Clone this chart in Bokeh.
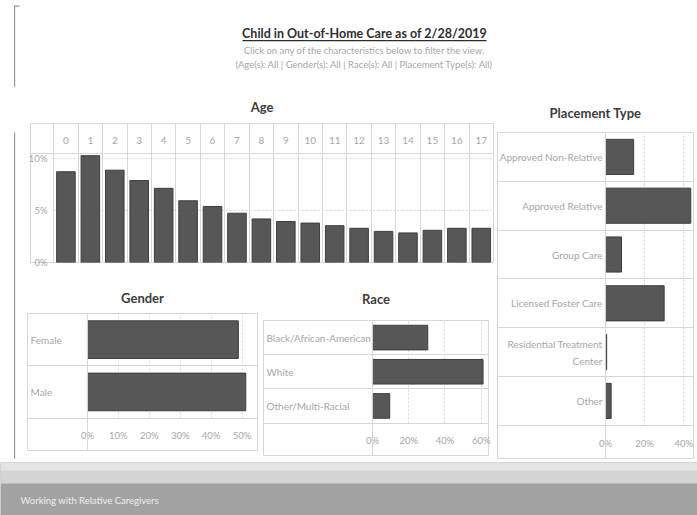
from bokeh.plotting import figure
from bokeh.models import FixedTicker, PrintfTickFormatter, Span, Label, BoxAnnotation, ColumnDataSource, Range1d
from bokeh.layouts import column, row
from bokeh.embed import file_html
from bokeh.resources import INLINE
from bokeh.core.properties import value

# ---------------- data ----------------
ages = [0, 1, 2, 3, 4, 5, 6, 7, 8, 9, 10, 11, 12, 13, 14, 15, 16, 17]
age_pct = [8.75, 10.3, 8.9, 7.9, 7.15, 5.95, 5.4, 4.75, 4.2, 3.95, 3.8, 3.55, 3.3, 3.0, 2.85, 3.1, 3.3, 3.3]
age_ticks = [0, 5, 10]

gender_cats = ["Female", "Male"]
gender_pct = [48.8, 51.2]
gender_ticks = [0, 10, 20, 30, 40, 50]

race_cats = ["Black/African-American", "White", "Other/Multi-Racial"]
race_pct = [30.5, 61.0, 9.5]
race_ticks = [0, 20, 40, 60]

place_cats = ["Approved Non-Relative", "Approved Relative", "Group Care",
              "Licensed Foster Care", "Residential Treatment\nCenter", "Other"]
place_pct = [14.4, 43.6, 8.2, 30.0, 0.6, 2.9]
place_ticks = [0, 20, 40]

# ---------------- styles ----------------
FONT = "Lato"
BAR = "#575757"
BAR_LINE = "#3e3e3e"
GRID = "#d6d6d6"
TXT = "#a6a6a6"
TITLE = "#3c3c3c"
EDGE = "#9a9a9a"


def base_fig(title, width, height, xr, yr, mb, standoff, x_loc="below"):
    p = figure(width=width, height=height, x_range=Range1d(*xr), y_range=Range1d(*yr),
               output_backend="svg", toolbar_location=None, title=title,
               x_axis_location=x_loc,
               min_border_left=mb[0], min_border_right=mb[1],
               min_border_top=mb[2], min_border_bottom=mb[3])
    p.title.align = "center"
    p.title.text_font = FONT
    p.title.text_font_size = "13px"
    p.title.text_font_style = "bold"
    p.title.text_color = TITLE
    p.title.standoff = standoff
    p.outline_line_color = GRID
    p.background_fill_color = "white"
    p.border_fill_color = "white"
    for ax in p.axis:
        ax.axis_line_color = None
        ax.major_tick_line_color = None
        ax.minor_tick_line_color = None
        ax.major_tick_out = 0
        ax.major_tick_in = 0
        ax.major_label_text_font = FONT
        ax.major_label_text_font_size = "9.5px"
        ax.major_label_text_color = TXT
    return p


def hbar_chart(title, cats, vals, ticks, width, height, mb, standoff, x_lo, x_hi, axis_h, align):
    n = len(cats)
    ys = list(range(n - 1, -1, -1))
    p = base_fig(title, width, height, (x_lo, x_hi), (-0.5 - axis_h, n - 0.5), mb, standoff)
    p.yaxis.visible = False
    p.xaxis.ticker = FixedTicker(ticks=ticks)
    p.xaxis.formatter = PrintfTickFormatter(format="%d%%")
    p.xaxis.major_label_standoff = -21
    # grid: faint dashed value lines, solid row separators
    p.xgrid.ticker = FixedTicker(ticks=ticks[1:])
    p.xgrid.grid_line_color = GRID
    p.xgrid.grid_line_dash = "2 2"
    p.xgrid.cross_bounds = (-0.5, n - 0.5)
    p.ygrid.ticker = FixedTicker(ticks=[], minor_ticks=[k - 0.5 for k in range(n)])
    p.ygrid.grid_line_color = None
    p.ygrid.minor_grid_line_color = GRID
    p.add_layout(Span(location=0, dimension="height", line_color=GRID, line_width=1))
    src = ColumnDataSource(dict(y=ys, v=vals, cat=cats))
    p.hbar(y="y", left=0, right="v", height=0.72, source=src,
           fill_color=BAR, line_color=BAR_LINE, line_width=1)
    if align == "left":
        p.text(x=x_lo, y="y", text="cat", source=src, x_offset=3,
               text_align="left", text_baseline="middle", text_font=value(FONT),
               text_font_size="10px", text_color=TXT)
    else:
        p.text(x=0, y="y", text="cat", source=src, x_offset=-3,
               text_align="right", text_baseline="middle", text_font=value(FONT),
               text_font_size="10px", text_color=TXT, text_line_height=1.4)
    return p


def blank(width, height):
    p = figure(width=width, height=height, x_range=Range1d(0, width), y_range=Range1d(0, height),
               output_backend="svg", toolbar_location=None, min_border=0)
    p.axis.visible = False
    p.grid.visible = False
    p.outline_line_color = None
    return p


# ---------------- header ----------------
ph = blank(697, 87)
ph.add_layout(Label(x=364, y=54, text="Child in Out-of-Home Care as of 2/28/2019",
                    text_align="center", text_baseline="middle", text_font=FONT,
                    text_font_size="12.5px", text_font_style="bold", text_color="#2e2e2e"))
ph.add_layout(BoxAnnotation(left=242, right=486, bottom=46.2, top=47.5,
                            fill_color="#2e2e2e", fill_alpha=1, line_color=None))
ph.add_layout(Label(x=364, y=37, text="Click on any of the characteristics below to filter the view.",
                    text_align="center", text_baseline="middle", text_font=FONT,
                    text_font_size="9.5px", text_color=TXT))
ph.add_layout(Label(x=364, y=23,
                    text="(Age(s): All | Gender(s): All | Race(s): All | Placement Type(s): All)",
                    text_align="center", text_baseline="middle", text_font=FONT,
                    text_font_size="9.5px", text_color=TXT))
ph.add_layout(BoxAnnotation(left=13.5, right=14.7, bottom=0, top=82,
                            fill_color=EDGE, fill_alpha=1, line_color=None))
ph.add_layout(BoxAnnotation(left=13.5, right=19, bottom=80.8, top=82,
                            fill_color=EDGE, fill_alpha=1, line_color=None))

# ---------------- left container edge ----------------
ps = figure(width=16, height=375, x_range=Range1d(0, 16), y_range=Range1d(0, 1),
            output_backend="svg", toolbar_location=None, min_border=0)
ps.axis.visible = False
ps.grid.visible = False
ps.outline_line_color = None
ps.add_layout(BoxAnnotation(left=13.5, right=14.7, bottom=-2, top=3,
                            fill_color=EDGE, fill_alpha=1, line_color=None))

# ---------------- age ----------------
header_y = 10.5
pa = base_fig("Age", 479, 183, (-1.45, 17.5), (0, 13.4), (14, 2, 36, 8), 17, x_loc="above")
pa.vbar(x=ages, top=age_pct, bottom=0, width=0.76, fill_color=BAR, line_color=BAR_LINE)
pa.xaxis.ticker = FixedTicker(ticks=ages)
pa.xaxis.major_label_standoff = -20
pa.xaxis.major_label_text_font_size = "10px"
pa.yaxis.ticker = FixedTicker(ticks=age_ticks)
pa.yaxis.formatter = PrintfTickFormatter(format="%d%%")
pa.yaxis.major_label_standoff = -17
pa.xgrid.ticker = FixedTicker(ticks=[], minor_ticks=[a - 0.5 for a in ages])
pa.xgrid.grid_line_color = None
pa.xgrid.minor_grid_line_color = GRID
pa.ygrid.ticker = FixedTicker(ticks=age_ticks[1:])
pa.ygrid.grid_line_color = GRID
pa.ygrid.grid_line_dash = "2 2"
pa.ygrid.cross_bounds = (-0.5, 17.5)
pa.add_layout(Span(location=header_y, dimension="width", line_color=GRID))

# ---------------- gender / race / placement ----------------
pg = hbar_chart("Gender", gender_cats, gender_pct, gender_ticks, 244, 192,
                (11, 3, 43, 12), 16, -19.4, 55, 0.62, "left")
pr = hbar_chart("Race", race_cats, race_pct, race_ticks, 235, 192,
                (3, 7, 50, 7), 27, -60.1, 64, 0.95, "left")
pp = hbar_chart("Placement Type", place_cats, place_pct, place_ticks, 202, 375,
                (2, 4, 45, 4), 23, -55.2, 45, 0.68, "right")

# ---------------- footer ----------------
pf = blank(697, 53)
pf.background_fill_color = "#a2a2a2"
pf.border_fill_color = "#a2a2a2"
pf.add_layout(BoxAnnotation(bottom=32, top=53, fill_color="#d4d4d4", fill_alpha=1, line_color=None))
pf.add_layout(BoxAnnotation(bottom=45, top=53, fill_color="#e4e4e4", fill_alpha=1, line_color=None))
pf.add_layout(Label(x=20, y=15, text="Working with Relative Caregivers", text_align="left",
                    text_baseline="middle", text_font=FONT, text_font_size="9.5px",
                    text_color="#eeeeee"))

middle = row(ps, column(pa, row(column(pg), column(pr))), pp)
layout = column(ph, middle, pf)

with open("out.html", "w") as f:
    f.write(file_html(layout, INLINE))
